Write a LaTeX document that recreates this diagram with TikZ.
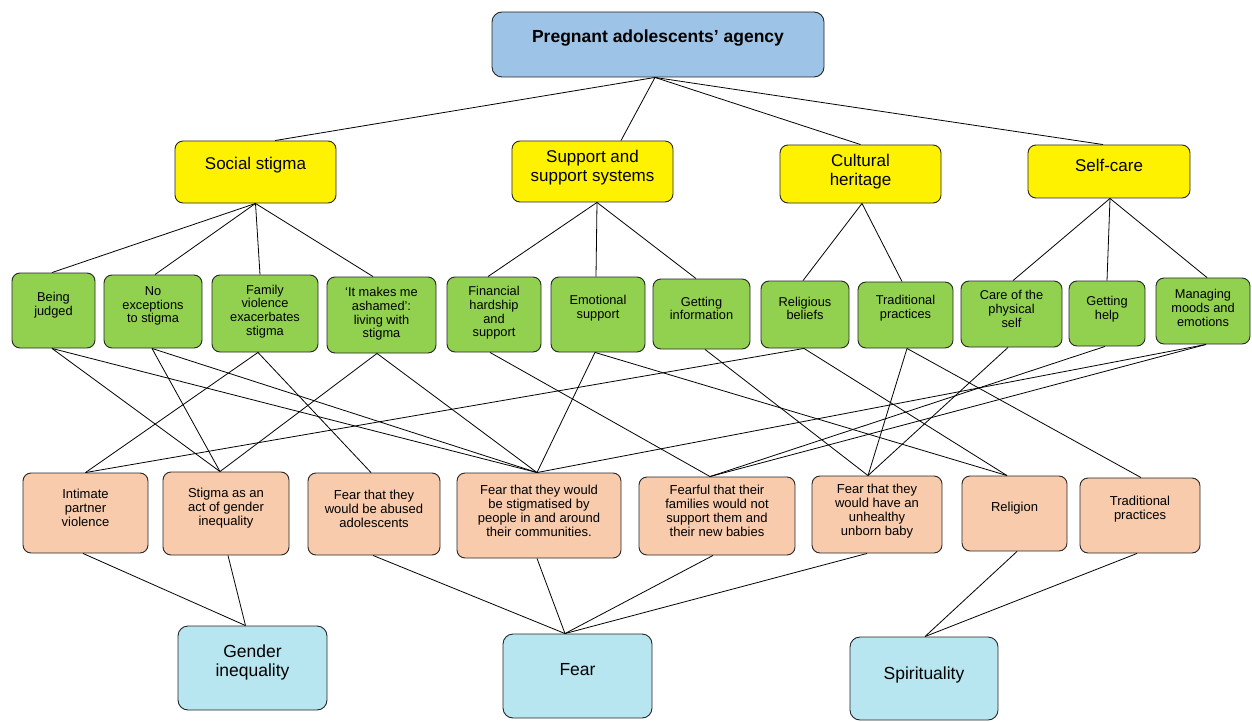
\documentclass[tikz,border=0pt]{standalone}
\usepackage{fontspec}
\setmainfont{Liberation Sans}
\begin{document}
\begin{tikzpicture}[x=1pt,y=-1pt,
  box/.style={draw=black!85, line width=0.9pt, rounded corners=8pt, inner sep=0pt},
  topbox/.style={box, fill=topblue, rounded corners=10pt},
  ybox/.style={box, fill=yellow},
  gbox/.style={box, fill=leafgreen},
  obox/.style={box, fill=peach},
  bbox/.style={box, fill=paleblue, rounded corners=10pt},
  toptext/.style={font=\fontsize{17.5}{20}\selectfont\bfseries, align=center, inner sep=0pt},
  ytext/.style={font=\fontsize{17}{19}\selectfont, align=center, inner sep=0pt},
  gtext/.style={font=\fontsize{12.8}{13.7}\selectfont, align=center, inner sep=0pt},
  otext/.style={font=\fontsize{13}{13.9}\selectfont, align=center, inner sep=0pt},
  btext/.style={font=\fontsize{17.5}{19.5}\selectfont, align=center, inner sep=0pt},
  conn/.style={draw=black, line width=0.8pt}
]
\definecolor{topblue}{HTML}{9DC3E6}
\definecolor{leafgreen}{HTML}{92D050}
\definecolor{peach}{HTML}{F8CBAD}
\definecolor{paleblue}{HTML}{B7E6F0}
\useasboundingbox (0,0) rectangle (1252,722);

% top
\node[topbox, minimum width=332pt, minimum height=65pt, label={[toptext,yshift=6.5pt]center:{Pregnant adolescents’ agency}}] (top) at (658,44.5) {};

% yellow themes
\node[ybox, minimum width=161pt, minimum height=62pt, label={[ytext,yshift=7pt]center:{Social stigma}}] (s1) at (255.5,172) {};
\node[ybox, minimum width=161pt, minimum height=61pt, label={[ytext,yshift=4pt]center:{Support and\\support systems}}] (s2) at (592.5,171.5) {};
\node[ybox, minimum width=161pt, minimum height=58pt, label={[ytext,yshift=2.5pt]center:{Cultural\\heritage}}] (s3) at (860.5,174) {};
\node[ybox, minimum width=162pt, minimum height=53pt, label={[ytext,yshift=6.5pt]center:{Self-care}}] (s4) at (1109,171.5) {};

% green sub-themes
\node[gbox, minimum width=83pt, minimum height=75pt, label={[gtext,yshift=5.5pt]center:{Being\\judged}}] (g1) at (53.5,310.5) {};
\node[gbox, minimum width=98pt, minimum height=73pt, label={[gtext,yshift=5.5pt]center:{No\\exceptions\\to stigma}}] (g2) at (153,311.5) {};
\node[gbox, minimum width=106pt, minimum height=77pt, label={[gtext,yshift=2pt]center:{Family\\violence\\exacerbates\\stigma}}] (g3) at (265,313.5) {};
\node[gbox, minimum width=109pt, minimum height=76pt, label={[gtext,yshift=1pt]center:{‘It makes me\\ashamed’:\\living with\\stigma}}] (g4) at (381.5,315) {};
\node[gbox, minimum width=94pt, minimum height=75pt, label={[gtext,yshift=1.5pt]center:{Financial\\hardship\\and\\support}}] (g5) at (494,314.5) {};
\node[gbox, minimum width=94pt, minimum height=75pt, label={[gtext,yshift=6pt]center:{Emotional\\support}}] (g6) at (598,314.5) {};
\node[gbox, minimum width=97pt, minimum height=70pt, label={[gtext,yshift=5.5pt]center:{Getting\\information}}] (g7) at (701.5,314) {};
\node[gbox, minimum width=88pt, minimum height=67pt, label={[gtext,yshift=6pt]center:{Religious\\beliefs}}] (g8) at (805,314.5) {};
\node[gbox, minimum width=95pt, minimum height=66pt, label={[gtext,yshift=6.5pt]center:{Traditional\\practices}}] (g9) at (905.5,315) {};
\node[gbox, minimum width=101pt, minimum height=66pt, label={[gtext,yshift=5pt]center:{Care of the\\physical\\self}}] (g10) at (1011.5,314) {};
\node[gbox, minimum width=76pt, minimum height=65pt, label={[gtext,yshift=4.5pt]center:{Getting\\help}}] (g11) at (1107,313.5) {};
\node[gbox, minimum width=94pt, minimum height=66pt, label={[gtext,yshift=3pt]center:{Managing\\moods and\\emotions}}] (g12) at (1203,311) {};

% orange codes
\node[obox, minimum width=125pt, minimum height=80pt, label={[otext,yshift=5pt]center:{Intimate\\partner\\violence}}] (o1) at (85.5,513) {};
\node[obox, minimum width=126pt, minimum height=83pt, label={[otext,yshift=5pt]center:{Stigma as an\\act of gender\\inequality}}] (o2) at (226,513.5) {};
\node[obox, minimum width=132pt, minimum height=82pt, label={[otext,yshift=5.5pt]center:{Fear that they\\would be abused\\adolescents}}] (o3) at (374,514) {};
\node[obox, minimum width=164pt, minimum height=85pt, label={[otext,yshift=5pt]center:{Fear that they would\\be stigmatised by\\people in and around\\their communities.}}] (o4) at (539,515.5) {};
\node[obox, minimum width=156pt, minimum height=78pt, label={[otext,yshift=5pt]center:{Fearful that their\\families would not\\support them and\\their new babies}}] (o5) at (717,516) {};
\node[obox, minimum width=130pt, minimum height=77pt, label={[otext,yshift=3.5pt]center:{Fear that they\\would have an\\unhealthy\\unborn baby}}] (o6) at (877,514.5) {};
\node[obox, minimum width=105pt, minimum height=75pt, label={[otext,yshift=5.5pt]center:{Religion}}] (o7) at (1014.5,513.5) {};
\node[obox, minimum width=120pt, minimum height=75pt, label={[otext,yshift=6pt]center:{Traditional\\practices}}] (o8) at (1140,515.5) {};

% bottom categories
\node[bbox, minimum width=149pt, minimum height=84pt, label={[btext,yshift=5.5pt]center:{Gender\\inequality}}] (b1) at (252.5,668) {};
\node[bbox, minimum width=149pt, minimum height=84pt, label={[btext,yshift=6pt]center:{Fear}}] (b2) at (577.5,676) {};
\node[bbox, minimum width=148pt, minimum height=83pt, label={[btext,yshift=3.5pt]center:{Spirituality}}] (b3) at (924,678.5) {};

% top -> themes
\draw[conn] ([xshift=-3pt]top.south) -- ([xshift=19.5pt]s1.north);
\draw[conn] ([xshift=-3pt]top.south) -- ([xshift=28.5pt]s2.north);
\draw[conn] ([xshift=-3pt]top.south) -- (s3.north);
\draw[conn] ([xshift=-3pt]top.south) -- ([xshift=-6pt]s4.north);

% themes -> sub-themes
\draw[conn] (s1.south) -- ([xshift=-1.5pt]g1.north);
\draw[conn] (s1.south) -- ([xshift=2pt]g2.north);
\draw[conn] (s1.south) -- ([xshift=-5pt]g3.north);
\draw[conn] (s1.south) -- ([xshift=-8.5pt]g4.north);
\draw[conn] ([xshift=4.5pt]s2.south) -- ([xshift=-6pt]g5.north);
\draw[conn] ([xshift=4.5pt]s2.south) -- ([xshift=-2pt]g6.north);
\draw[conn] ([xshift=4.5pt]s2.south) -- ([xshift=-5.5pt]g7.north);
\draw[conn] ([xshift=1.5pt]s3.south) -- ([xshift=-2pt]g8.north);
\draw[conn] ([xshift=1.5pt]s3.south) -- ([xshift=-3.5pt]g9.north);
\draw[conn] ([xshift=1pt]s4.south) -- ([xshift=1.5pt]g10.north);
\draw[conn] ([xshift=1pt]s4.south) -- (g11.north);
\draw[conn] ([xshift=1pt]s4.south) -- ([xshift=4pt]g12.north);

% sub-themes -> codes
\draw[conn] ([xshift=-1.5pt]g1.south) -- ([xshift=-6pt]o2.north);
\draw[conn] ([xshift=-1.5pt]g1.south) -- ([xshift=-2pt]o4.north);
\draw[conn] ([xshift=-1pt]g2.south) -- ([xshift=-6pt]o2.north);
\draw[conn] ([xshift=-1pt]g2.south) -- ([xshift=-2pt]o4.north);
\draw[conn] ([xshift=-7pt]g3.south) -- (o1.north);
\draw[conn] ([xshift=-7pt]g3.south) -- ([xshift=-3pt]o3.north);
\draw[conn] ([xshift=-4.5pt]g4.south) -- ([xshift=-6pt]o2.north);
\draw[conn] ([xshift=-4.5pt]g4.south) -- ([xshift=-2pt]o4.north);
\draw[conn] ([xshift=-4pt]g5.south) -- ([xshift=-7pt]o5.north);
\draw[conn] ([xshift=-3pt]g6.south) -- ([xshift=-2pt]o4.north);
\draw[conn] ([xshift=-3pt]g6.south) -- ([xshift=-7.5pt]o7.north);
\draw[conn] ([xshift=3.5pt]g7.south) -- ([xshift=-9pt]o6.north);
\draw[conn] ([xshift=-1pt]g8.south) -- (o1.north);
\draw[conn] ([xshift=-1pt]g8.south) -- ([xshift=-7.5pt]o7.north);
\draw[conn] ([xshift=1.5pt]g9.south) -- ([xshift=-9pt]o6.north);
\draw[conn] ([xshift=1.5pt]g9.south) -- ([xshift=1pt]o8.north);
\draw[conn] ([xshift=-3.5pt]g10.south) -- ([xshift=-9pt]o6.north);
\draw[conn] ([xshift=-2pt]g11.south) -- ([xshift=-7pt]o5.north);
\draw[conn] ([xshift=3pt]g12.south) -- ([xshift=-2pt]o4.north);
\draw[conn] ([xshift=3pt]g12.south) -- ([xshift=-7pt]o5.north);

% codes -> categories
\draw[conn] ([xshift=-2.5pt]o1.south) -- ([xshift=-7pt]b1.north);
\draw[conn] ([xshift=2pt]o2.south) -- ([xshift=-7pt]b1.north);
\draw[conn] ([xshift=-1pt]o3.south) -- ([xshift=-12.5pt]b2.north);
\draw[conn] ([xshift=-2pt]o4.south) -- ([xshift=-12.5pt]b2.north);
\draw[conn] ([xshift=-4pt]o5.south) -- ([xshift=-12.5pt]b2.north);
\draw[conn] ([xshift=-10pt]o6.south) -- ([xshift=-12.5pt]b2.north);
\draw[conn] ([xshift=2.5pt]o7.south) -- ([xshift=1pt]b3.north);
\draw[conn] ([xshift=-3pt]o8.south) -- ([xshift=1pt]b3.north);
\end{tikzpicture}
\end{document}
